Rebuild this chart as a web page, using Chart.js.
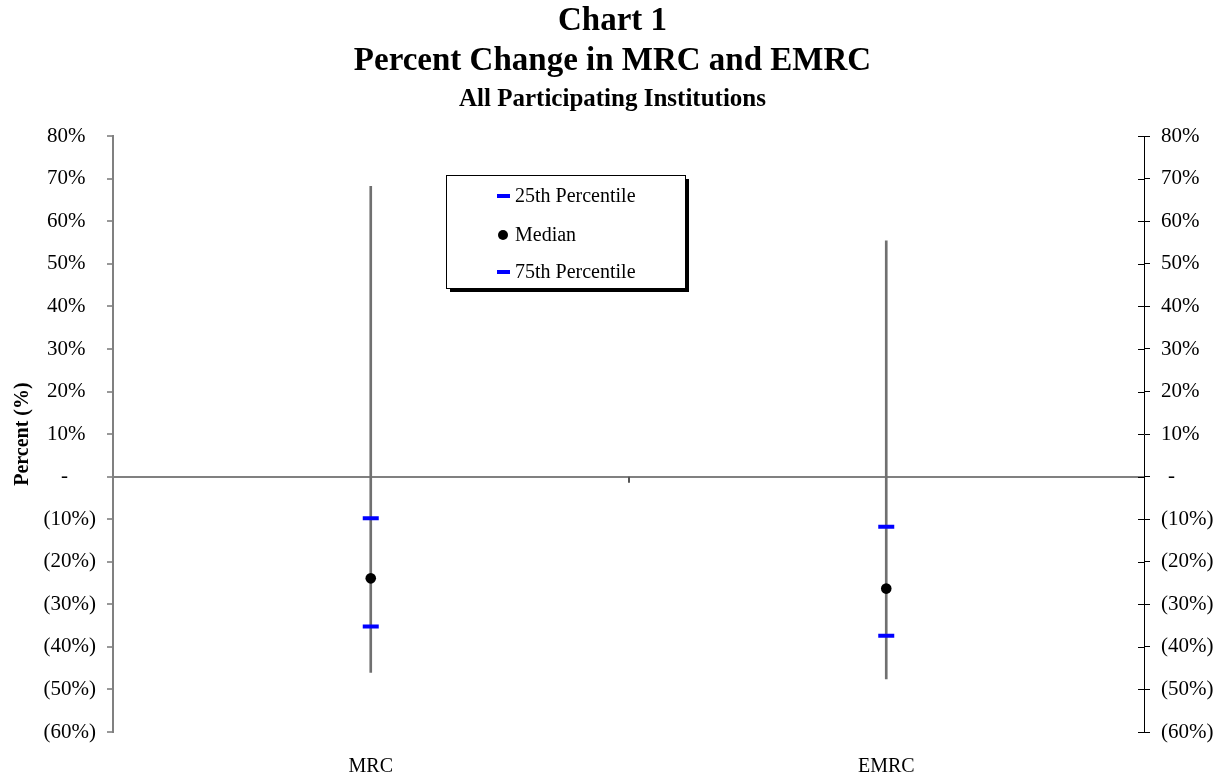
<!DOCTYPE html>
<html>
<head>
<meta charset="utf-8">
<script src="https://cdn.jsdelivr.net/npm/chart.js@4.4.1/dist/chart.umd.min.js"></script>
<style>
  html, body { margin: 0; padding: 0; background: #fff; }
  #wrap { width: 1225px; height: 778px; }
</style>
</head>
<body>
<div id="wrap"><canvas id="c" width="1225" height="778"></canvas></div>
<script>
// values, percent change
const categories = ['MRC', 'EMRC']
const highs = [68.2, 55.4]
const lows = [-46.0, -47.5]
const p25 = [-9.8, -11.8]
const medians = [-23.9, -26.3]
const p75 = [-35.2, -37.4]

const yTickValues = [80, 70, 60, 50, 40, 30, 20, 10, 0, -10, -20, -30, -40, -50, -60]
const yTickLabels = ['80%', '70%', '60%', '50%', '40%', '30%', '20%', '10%', '-',
  '(10%)', '(20%)', '(30%)', '(40%)', '(50%)', '(60%)']

const serif = 'Liberation Serif'
const tickText = v => {
  let i = yTickValues.indexOf(Math.round(v))
  return i >= 0 ? yTickLabels[i] : ''
}
// accounting style spacing like the spreadsheet: positives leave room for ")"
const leftTick = v => {
  let s = tickText(v)
  if (v === 0) return s + '\u2002\u2002\u2004'
  if (v > 0) return s + '\u2002'
  return s
}
const rightTick = v => {
  let s = tickText(v)
  return v === 0 ? '\u2004' + s : s
}

// inner half of the right axis ticks + small tick on the zero line between categories
const extraTicks = {
  id: 'extraTicks',
  afterDraw(chart) {
    const {ctx, scales} = chart
    const y2 = scales.y2, x = scales.x, y = scales.y
    ctx.save()
    ctx.strokeStyle = '#000'
    ctx.lineWidth = 1
    y2.ticks.forEach(t => {
      let py = Math.round(y2.getPixelForValue(t.value)) + 0.5
      ctx.beginPath()
      ctx.moveTo(y2.left - 6, py)
      ctx.lineTo(y2.left, py)
      ctx.stroke()
    })
    ctx.strokeStyle = '#555'
    ctx.lineWidth = 2
    let mx = Math.round(x.getPixelForValue(0.5))
    let zy = y.getPixelForValue(0)
    ctx.beginPath()
    ctx.moveTo(mx, zy)
    ctx.lineTo(mx, zy + 6)
    ctx.stroke()
    ctx.restore()
  }
}

// boxed legend with a drop shadow, placed like the original
const boxLegend = {
  id: 'boxLegend',
  afterDraw(chart) {
    const {ctx} = chart
    const bx = 446, by = 175, bw = 239, bh = 113
    ctx.save()
    ctx.fillStyle = '#000'
    ctx.fillRect(bx + 4, by + 4, bw, bh)
    ctx.fillStyle = '#fff'
    ctx.fillRect(bx, by, bw, bh)
    ctx.strokeStyle = '#000'
    ctx.lineWidth = 1
    ctx.strokeRect(bx + 0.5, by + 0.5, bw, bh)
    const rows = [196, 235, 272]
    const items = chart.data.datasets.filter(d => d.inLegend)
    ctx.font = '20px "' + serif + '"'
    ctx.textBaseline = 'middle'
    items.forEach((d, i) => {
      let yy = rows[i]
      if (d.pointStyle === 'circle') {
        ctx.fillStyle = '#000'
        ctx.beginPath()
        ctx.arc(503, yy, 5, 0, Math.PI * 2)
        ctx.fill()
      } else {
        ctx.fillStyle = '#0000ff'
        ctx.fillRect(497, yy - 2, 13, 4)
      }
      ctx.fillStyle = '#000'
      ctx.fillText(d.label, 515, yy + 1)
    })
    ctx.restore()
  }
}

new Chart(document.getElementById('c'), {
  type: 'line',
  data: {
    labels: categories,
    datasets: [
      {
        type: 'bar',
        label: 'Range',
        data: categories.map((c, i) => [lows[i], highs[i]]),
        backgroundColor: '#707070',
        barThickness: 2,
        order: 5
      },
      {
        label: '25th Percentile',
        inLegend: true,
        data: p25,
        showLine: false,
        pointStyle: 'line',
        pointRadius: 8,
        pointBorderWidth: 4,
        pointBorderColor: '#0000ff',
        borderColor: '#0000ff',
        order: 2
      },
      {
        label: 'Median',
        inLegend: true,
        data: medians,
        showLine: false,
        pointStyle: 'circle',
        pointRadius: 5.3,
        pointBorderWidth: 0,
        pointBackgroundColor: '#000',
        borderColor: '#000',
        order: 1
      },
      {
        label: '75th Percentile',
        inLegend: true,
        data: p75,
        showLine: false,
        pointStyle: 'line',
        pointRadius: 8,
        pointBorderWidth: 4,
        pointBorderColor: '#0000ff',
        borderColor: '#0000ff',
        order: 2
      }
    ]
  },
  options: {
    responsive: false,
    animation: false,
    layout: { padding: 0 },
    plugins: {
      legend: { display: false },
      tooltip: { enabled: false },
      title: {
        display: true,
        text: ['Chart 1', 'Percent Change in MRC and EMRC'],
        color: '#000',
        font: { family: serif, size: 33, weight: 'bold', lineHeight: 1.2 },
        padding: { top: 2, bottom: 0 }
      },
      subtitle: {
        display: true,
        text: 'All Participating Institutions',
        color: '#000',
        font: { family: serif, size: 25, weight: 'bold', lineHeight: 1.2 },
        padding: { top: 3, bottom: 22 }
      }
    },
    scales: {
      x: {
        offset: true,
        grid: { display: false, drawTicks: false },
        border: { display: false },
        ticks: { color: '#000', font: { family: serif, size: 20 }, padding: 23 },
        afterFit: s => { s.height = 46 }
      },
      y: {
        position: 'left',
        min: -60, max: 80,
        ticks: { stepSize: 10, callback: leftTick, color: '#000', padding: 11,
          font: { family: serif, size: 21 } },
        grid: {
          color: c => c.tick && c.tick.value === 0 ? '#808080' : 'rgba(0,0,0,0)',
          lineWidth: 2,
          tickColor: '#333',
          tickLength: 6,
          tickWidth: 1
        },
        border: { color: '#808080', width: 2 },
        title: { display: true, text: 'Percent (%)', color: '#000',
          font: { family: serif, size: 20, weight: 'bold' }, padding: { top: 11, bottom: 0 } },
        afterFit: s => { s.width = 113 }
      },
      y2: {
        position: 'right',
        min: -60, max: 80,
        ticks: { stepSize: 10, callback: rightTick, color: '#000', padding: 11,
          font: { family: serif, size: 21 } },
        grid: { drawOnChartArea: false, tickColor: '#000', tickLength: 6, tickWidth: 1 },
        border: { color: '#000', width: 1 },
        afterFit: s => { s.width = 81 }
      }
    }
  },
  plugins: [extraTicks, boxLegend]
})
</script>
</body>
</html>
